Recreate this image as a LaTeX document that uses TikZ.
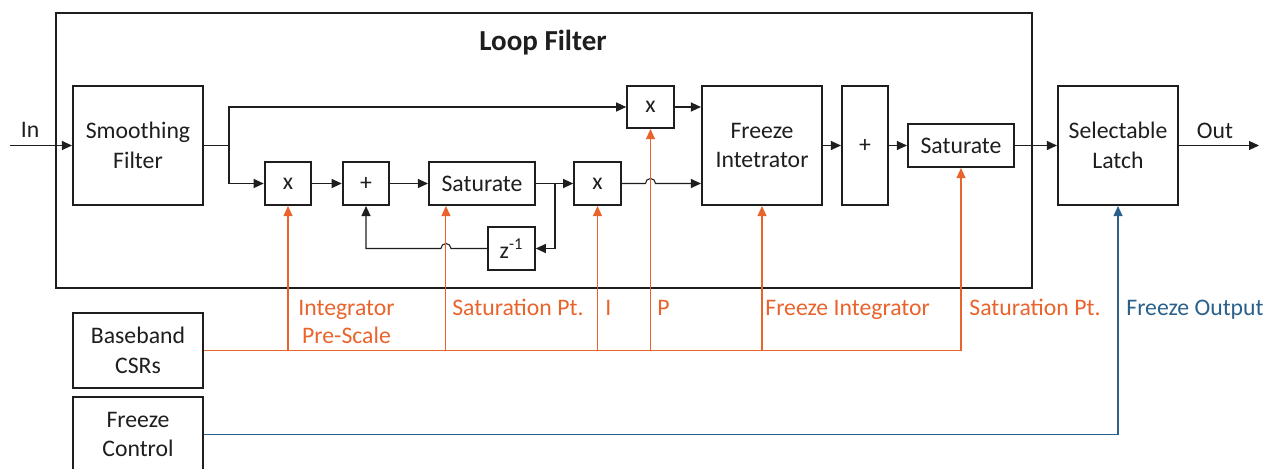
\documentclass[tikz,border=0pt]{standalone}
\usepackage{fontspec}
\setmainfont{Carlito}
\usepackage{xcolor}
\usetikzlibrary{arrows.meta,positioning,calc}
\definecolor{csrorange}{RGB}{233,100,45}
\definecolor{frzblue}{RGB}{42,96,138}
\definecolor{ink}{RGB}{30,30,30}

\begin{document}
\begin{tikzpicture}[x=0.2mm, y=-0.2mm, font=\fontsize{13.5}{17}\selectfont, text=ink,
  blk/.style={draw=ink, line width=1.2pt, align=center, inner sep=0pt},
  mulbox/.style={blk, minimum width=9.3mm, minimum height=8.6mm},
  satbox/.style={blk, minimum width=21.2mm, minimum height=8.6mm},
  bigbox/.style={blk, minimum width=24mm, minimum height=23.8mm},
  csrbox/.style={blk, minimum width=26mm, minimum height=15mm},
  arr/.style={-{Triangle[length=2mm, width=1.8mm]}, draw=ink, line width=0.6pt},
  oarr/.style={arr, draw=csrorange},
  barr/.style={arr, draw=frzblue},
  olab/.style={text=csrorange, anchor=base west, align=center, inner sep=0pt, font=\fontsize{13.5}{16}\selectfont}]
\useasboundingbox (0,0) rectangle (1272,468);
\draw[ink, line width=0.7pt] (56,13) rectangle (1032,288);
\node[font=\fontsize{16.5}{20}\selectfont\bfseries] (title) at (543,43) {Loop Filter};
% blocks
\node[bigbox, minimum width=26mm] (smooth) at (138,145.5) {Smoothing\\Filter};
\node[mulbox] (mul1) at (288,183.5) {x};
\node[mulbox] (add) at (366,183.5) {+};
\node[satbox] (sat1) at (482,183.5) {Saturate};
\node[mulbox] (mul2) at (597.5,183.5) {x};
\node[mulbox] (zinv) at (511.5,248.5) {z\textsuperscript{-1}};
\node[mulbox, minimum height=8.4mm] (mulp) at (650.5,107) {x};
\node[bigbox] (freeze) at (762,145.5) {Freeze\\Intetrator};
\node[bigbox, minimum width=9.2mm] (sum) at (865,145.5) {+};
\node[satbox] (sat2) at (961,145.5) {Saturate};
\node[bigbox] (latch) at (1118,145.5) {Selectable\\Latch};
\node[csrbox] (csr) at (138,350.5) {Baseband\\CSRs};
\node[csrbox] (fctl) at (138,434.5) {Freeze\\Control};
% in / out
\coordinate (src) at (10,145.5);
\coordinate (sink) at (1259,145.5);
\node (inlab) at (30,130) {In};
\node (outlab) at (1215,131) {Out};
\draw[arr] (src) -- (smooth.west);
\draw[arr] (latch.east) -- (sink);
% data path
\coordinate (split) at (229,145.5);
\coordinate (tap) at (555,183.5);
\coordinate (satin) at ($(sat1.south west)+(18,0)$);
\draw[ink, line width=0.6pt] (smooth.east) -- (split);
\draw[arr] (split) |- (mulp.west);
\draw[arr] (split) |- (mul1.west);
\draw[arr] (mul1) -- (add);
\draw[arr] (add) -- (sat1);
\draw[arr] (sat1) -- (mul2);
\draw[arr] (tap) |- (zinv.east);
\draw[arr] (zinv.west) -- ($(satin |- zinv.west)+(5,0)$) arc[start angle=0, end angle=180, radius=1mm] -| (add.south);
\draw[arr] (mulp.east) -- (mulp.east -| freeze.west);
\draw[arr] (mul2.east) -- ($(mulp.south |- mul2.east)+(-5,0)$) arc[start angle=180, end angle=0, radius=1mm] -- (mul2.east -| freeze.west);
\draw[arr] (freeze) -- (sum);
\draw[arr] (sum) -- (sat2);
\draw[arr] (sat2) -- (latch);
% control registers
\draw[csrorange, line width=0.6pt] (csr.east) -- (csr.east -| sat2.south);
\foreach \t in {mul1.south, satin, mul2.south, mulp.south, freeze.south, sat2.south}
  \draw[oarr] (csr.east -| \t) -- (\t);
\node[olab, anchor=center] (lprescale) at (346.5,322) {Integrator\\Pre-Scale};
\node[olab] (lsat1) at (452,315) {Saturation Pt.};
\node[olab] (li) at (605,315) {I};
\node[olab] (lp) at (657,315) {P};
\node[olab] (lfrz) at (765,315) {Freeze Integrator};
\node[olab] (lsat2) at (969,315) {Saturation Pt.};
\node[olab, text=frzblue] (lfout) at (1126,315) {Freeze Output};
\draw[barr] (fctl.east) -| (latch.south);
\end{tikzpicture}
\end{document}
